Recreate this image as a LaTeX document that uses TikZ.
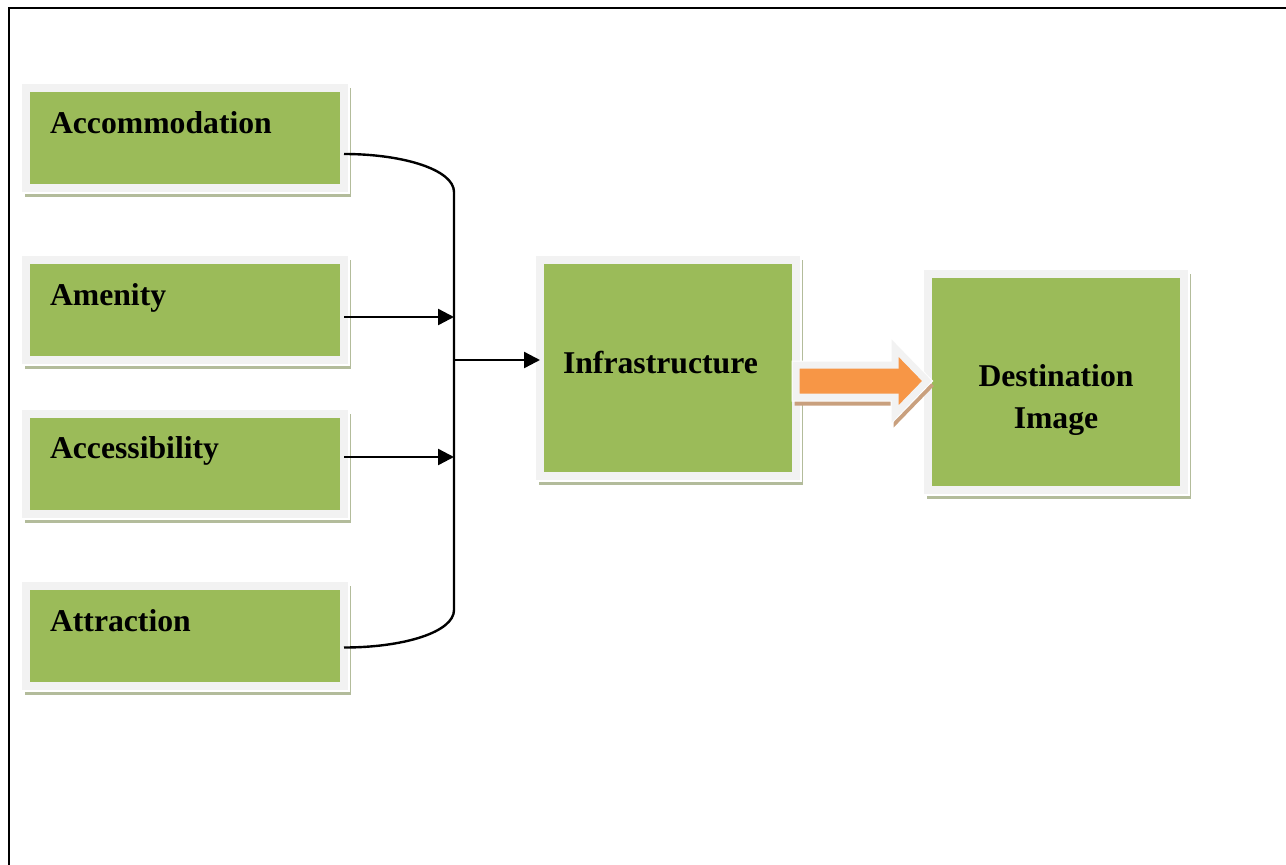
\documentclass[tikz,border=0pt]{standalone}
\usepackage{fontspec}
\setmainfont{Liberation Serif}
\usetikzlibrary{arrows.meta}
\definecolor{boxgreen}{HTML}{9BBB59}
\definecolor{framegrey}{HTML}{F2F2F2}
\definecolor{shadowgreen}{HTML}{B3BC9B}
\definecolor{arroworange}{HTML}{F79646}
\definecolor{arrowshadow}{HTML}{C9A07E}
\pgfdeclarelayer{background}
\pgfsetlayers{background,main}
\tikzset{
  box/.style={rectangle, fill=boxgreen, draw=framegrey, line width=8pt, inner sep=0pt, outer sep=0pt},
  smallbox/.style={box, minimum width=318pt, minimum height=100pt},
  bigbox/.style={box, minimum width=256pt, minimum height=216pt},
  lbl/.style={font=\fontsize{31.7pt}{42pt}\selectfont\bfseries, inner sep=0pt, outer sep=0pt, text=black},
  conn/.style={line width=2.4pt, black},
  arr/.style={conn, -{Triangle[length=16pt,width=16pt]}},
  blockarrow/.style={line width=7pt, miter limit=20, line join=miter}
}
\newcommand{\boxshadow}[1]{%
  \fill[shadowgreen] ([shift={(-1,0)}]#1.north west) rectangle ([shift={(7,9)}]#1.south east);
  \fill[white] ([shift={(-4,-4)}]#1.north west) rectangle ([shift={(5.5,5.5)}]#1.south east);
}
\begin{document}
\begin{tikzpicture}[x=1pt,y=-1pt]
\useasboundingbox (0,0) rectangle (1286,865);
% page frame
\draw[line width=2.4pt] (9,865) -- (9,7.7) -- (1286,7.7);

% boxes
\node[smallbox] (acc) at (185,138) {};
\node[smallbox] (amen) at (185,310) {};
\node[smallbox] (access) at (185,464) {};
\node[smallbox] (attr) at (185,636) {};
\node[bigbox] (inf) at (668,368) {};
\node[bigbox] (dest) at (1056,382) {};

\begin{pgfonlayer}{background}
\boxshadow{acc}
\boxshadow{amen}
\boxshadow{access}
\boxshadow{attr}
\boxshadow{inf}
\boxshadow{dest}
\end{pgfonlayer}

% labels
\node[lbl, anchor=base west] (accT) at (50,133) {Accommodation};
\node[lbl, anchor=base west] (amenT) at (50,305) {Amenity};
\node[lbl, anchor=base west] (accessT) at (50,458) {Accessibility};
\node[lbl, anchor=base west] (attrT) at (50,631) {Attraction};
\node[lbl, anchor=base west] (infT) at (563,373) {Infrastructure};
\node[lbl, anchor=base, align=center] (destT) at (1056,428) {Destination\\Image};

% bus connector
\coordinate (bustop) at (454,192);
\coordinate (busbot) at (454,610);
\coordinate (busmid) at (454,360);
\draw[conn] ([yshift=-16pt]acc.east) .. controls +(60,0) and +(0,-22) .. (bustop)
  -- (busbot) .. controls +(0,22) and +(60,0) .. ([yshift=-11.5pt]attr.east);
\coordinate (amA) at ([yshift=-7pt]amen.east);
\coordinate (acA) at ([yshift=7pt]access.east);
\draw[arr] (amA) -- (amA -| bustop);
\draw[arr] (acA) -- (acA -| bustop);
\draw[arr] (busmid) -- (busmid -| inf.west);

% block arrow
\def\bapath{(796,365) -- (895,365) -- (895,348) -- (927,381) -- (895,414) -- (895,397) -- (796,397) -- cycle}
\fill[arrowshadow, draw=arrowshadow, blockarrow, shift={(2,5)}] \bapath;
\draw[white, line width=9pt, line join=miter, miter limit=20] \bapath;
\filldraw[blockarrow, fill=arroworange, draw=framegrey] \bapath;
\end{tikzpicture}
\end{document}
